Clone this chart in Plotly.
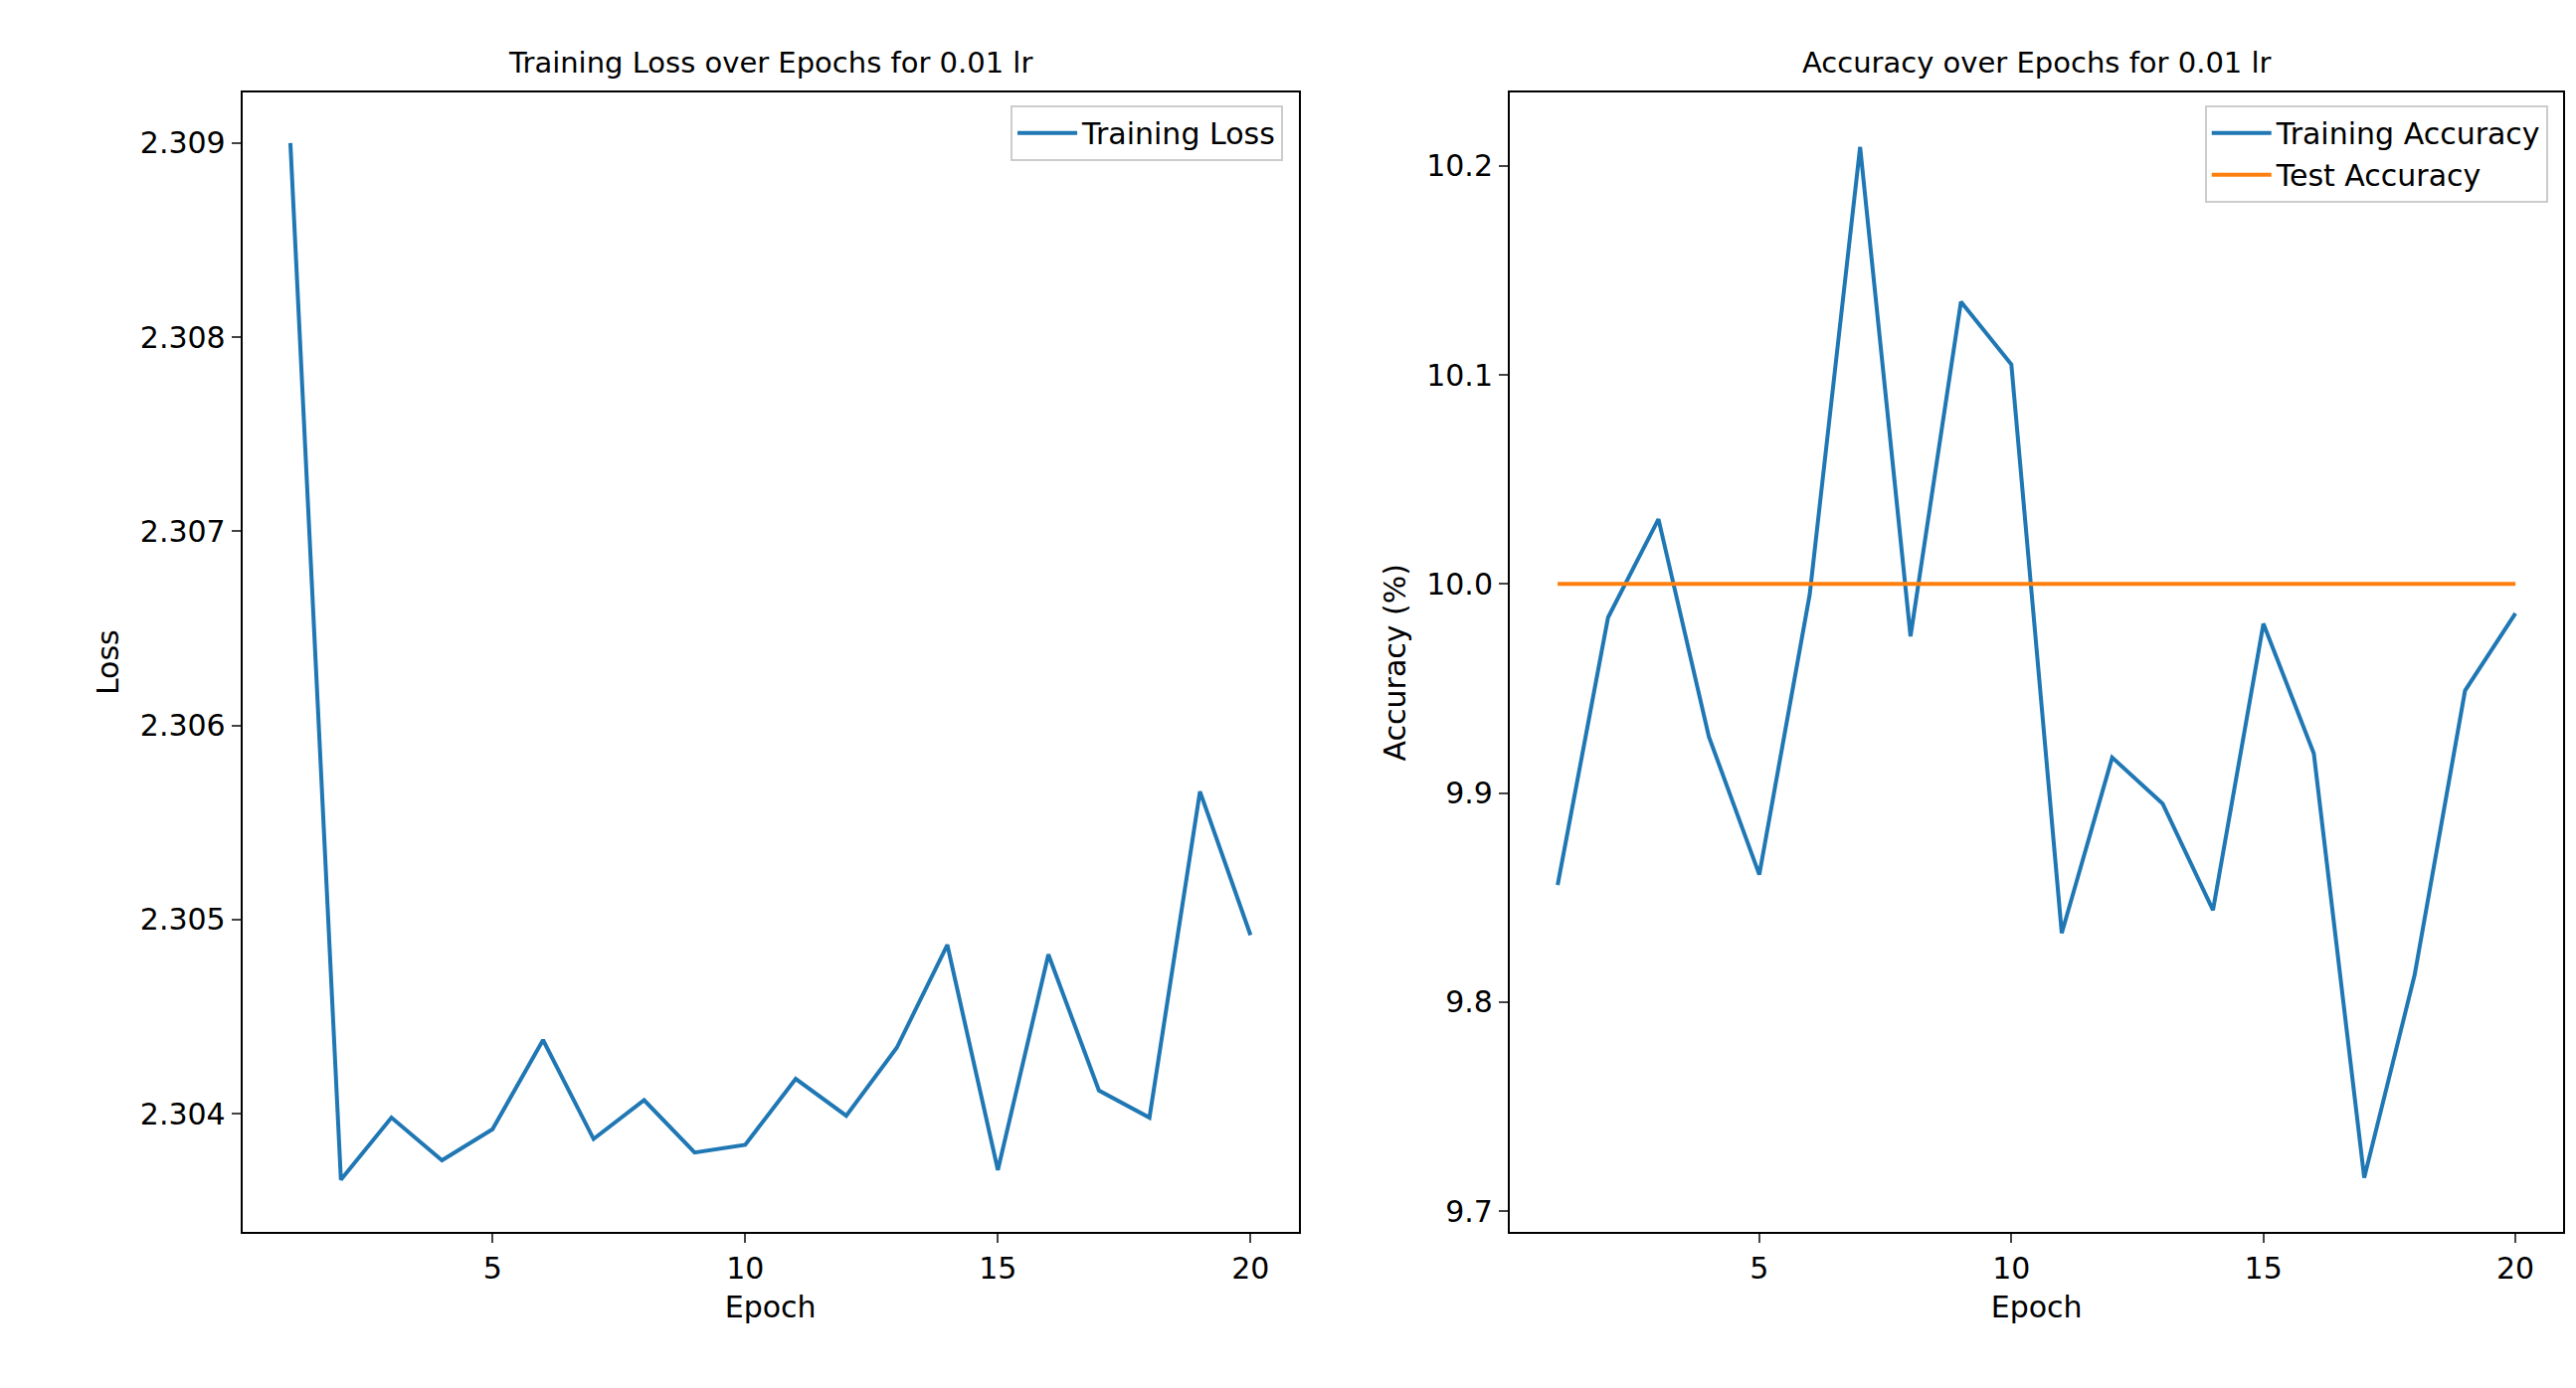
import plotly.graph_objects as go
from plotly.subplots import make_subplots

epochs = list(range(1, 21))
train_loss = [2.309, 2.30366, 2.30398, 2.30376, 2.30392, 2.30438, 2.30387, 2.30407, 2.30380, 2.30384,
              2.30418, 2.30399, 2.30434, 2.30487, 2.30371, 2.30482, 2.30412, 2.30398, 2.30566, 2.30492]
train_acc = [9.856, 9.984, 10.031, 9.927, 9.861, 9.995, 10.209, 9.975, 10.135, 10.105,
             9.833, 9.917, 9.895, 9.844, 9.981, 9.919, 9.716, 9.813, 9.949, 9.986]
test_acc = [10.0] * 20

blue = '#1f77b4'
orange = '#ff7f0e'
font = 'DejaVu Sans'

fig = make_subplots(rows=1, cols=2)

fig.add_trace(go.Scatter(x=epochs, y=train_loss, mode='lines', name='Training Loss',
                         line=dict(color=blue, width=4), legend='legend'), row=1, col=1)
fig.add_trace(go.Scatter(x=epochs, y=train_acc, mode='lines', name='Training Accuracy',
                         line=dict(color=blue, width=4), legend='legend2'), row=1, col=2)
fig.add_trace(go.Scatter(x=epochs, y=test_acc, mode='lines', name='Test Accuracy',
                         line=dict(color=orange, width=4), legend='legend2'), row=1, col=2)

axis_style = dict(showline=True, mirror=True, linecolor='black', linewidth=2,
                  ticks='outside', ticklen=9, tickwidth=2, showgrid=False, zeroline=False,
                  tickfont=dict(size=30, color='black'), title_font=dict(size=30, color='black'),
                  title_standoff=12)

fig.update_xaxes(axis_style, tickvals=[5, 10, 15, 20], range=[0.05, 20.95], title_text='Epoch')
fig.update_xaxes(domain=[0.091, 0.501], row=1, col=1)
fig.update_xaxes(domain=[0.583, 0.992], row=1, col=2)
fig.update_yaxes(axis_style, domain=[0.118, 0.939])
fig.update_yaxes(range=[2.30339, 2.30926], tickvals=[2.304, 2.305, 2.306, 2.307, 2.308, 2.309],
                 tickformat='.3f', title_text='Loss', row=1, col=1)
fig.update_yaxes(range=[9.690, 10.235], tickvals=[9.7, 9.8, 9.9, 10.0, 10.1, 10.2],
                 tickformat='.1f', title_text='Accuracy (%)', row=1, col=2)

legend_style = dict(bordercolor='#cccccc', borderwidth=2, bgcolor='white',
                    font=dict(size=30, color='black'), xanchor='right', yanchor='top',
                    itemwidth=60)

fig.update_layout(
    width=2590, height=1396,
    margin=dict(l=0, r=0, t=0, b=0),
    plot_bgcolor='white', paper_bgcolor='white',
    font=dict(family=font, color='black'),
    showlegend=True,
    legend=dict(legend_style, x=0.495, y=0.93),
    legend2=dict(legend_style, x=0.986, y=0.93),
    annotations=[
        dict(text='Training Loss over Epochs for 0.01 lr', x=0.296, y=0.947, xref='paper', yref='paper',
             xanchor='center', yanchor='bottom', showarrow=False, font=dict(size=29)),
        dict(text='Accuracy over Epochs for 0.01 lr', x=0.7875, y=0.947, xref='paper', yref='paper',
             xanchor='center', yanchor='bottom', showarrow=False, font=dict(size=29)),
    ],
)

fig.write_html("out.html")
